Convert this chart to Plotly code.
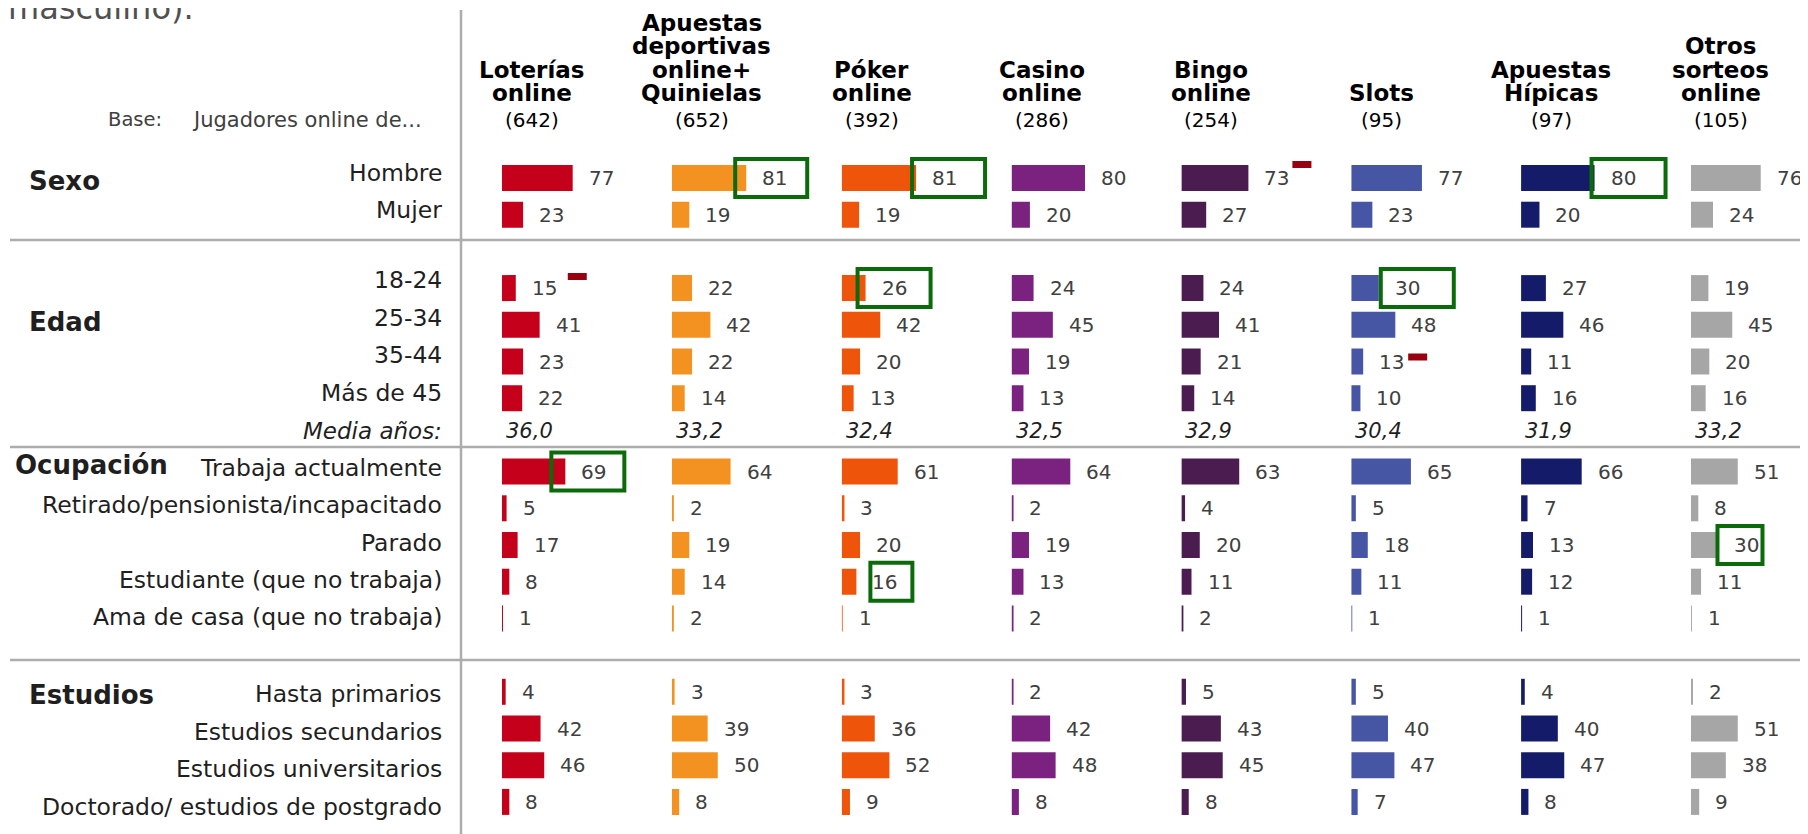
import plotly.graph_objects as go

# ---------------- data ----------------
column_labels = ["Loterías<br>online", "Apuestas<br>deportivas<br>online+<br>Quinielas",
                 "Póker<br>online", "Casino<br>online", "Bingo<br>online", "Slots",
                 "Apuestas<br>Hípicas", "Otros<br>sorteos<br>online"]
base_sizes = [642, 652, 392, 286, 254, 95, 97, 105]

group_names = ["Sexo", "Edad", "Ocupación", "Estudios"]
sexo_rows = ["Hombre", "Mujer"]
edad_rows = ["18-24", "25-34", "35-44", "Más de 45"]
ocupacion_rows = ["Trabaja actualmente", "Retirado/pensionista/incapacitado", "Parado",
                  "Estudiante (que no trabaja)", "Ama de casa (que no trabaja)"]
estudios_rows = ["Hasta primarios", "Estudios secundarios", "Estudios universitarios",
                 "Doctorado/ estudios de postgrado"]

# values per column, in row order (Sexo, Edad, Ocupación, Estudios)
loterias = [77, 23, 15, 41, 23, 22, 69, 5, 17, 8, 1, 4, 42, 46, 8]
apuestas = [81, 19, 22, 42, 22, 14, 64, 2, 19, 14, 2, 3, 39, 50, 8]
poker = [81, 19, 26, 42, 20, 13, 61, 3, 20, 16, 1, 3, 36, 52, 9]
casino = [80, 20, 24, 45, 19, 13, 64, 2, 19, 13, 2, 2, 42, 48, 8]
bingo = [73, 27, 24, 41, 21, 14, 63, 4, 20, 11, 2, 5, 43, 45, 8]
slots = [77, 23, 30, 48, 13, 10, 65, 5, 18, 11, 1, 5, 40, 47, 7]
hipicas = [80, 20, 27, 46, 11, 16, 66, 7, 13, 12, 1, 4, 40, 47, 8]
otros = [76, 24, 19, 45, 20, 16, 51, 8, 30, 11, 1, 2, 51, 38, 9]
media_edad = [36.0, 33.2, 32.4, 32.5, 32.9, 30.4, 31.9, 33.2]

media_label = "Media años:"
base_label = "Base:"
base_text = "Jugadores online de..."
title_fragment = "masculino)."

# significantly higher (green box) / lower (red mark): (column index, row)
higher = [(1, "Hombre"), (2, "Hombre"), (6, "Hombre"), (2, "18-24"), (5, "18-24"),
          (0, "Trabaja actualmente"), (2, "Estudiante (que no trabaja)"), (7, "Parado")]
lower = [(0, "18-24"), (4, "Hombre"), (5, "35-44")]

# ---------------- style / layout (positions in page pixels) ----------------
PAGE_W, PAGE_H = 1808, 834
BODY_MARGIN = 8                      # default html body margin
W, H = PAGE_W - BODY_MARGIN, PAGE_H - BODY_MARGIN
FONT = "DejaVu Sans"
colors = ["#C5001B", "#F39220", "#EF540B", "#7B2280", "#4B1C4F", "#4755A5", "#141C6A", "#A6A6A6"]
COL_START_PX, COL_STEP_PX = 502, 169.85
PX_PER_UNIT = 0.918
BAR_Y0_PX, BAR_PITCH_PX, BAR_H_PX = 178, 36.7, 26
LAB_Y0_PX, LAB_PITCH_PX = 168.6, 37.49
LABEL_GROUP_YSHIFT_PX = [-4, 1, 1, -1]
LABEL_RIGHT_PX = 444
GROUP_X_PX = [27, 27, 13, 27]
GROUP_SLOT_OFFSET = [0.33, 1.1, -0.1, 0.05]
SEPARATOR_Y_PX = [240, 447, 660]
VLINE_X_PX = 461
HEADER_BOTTOM_PX, HEADER_PITCH_PX, HEADER_DX_PX = 93, 23.3, 30
BASE_Y_PX = 120
VALUE_DX_PX = 14
# hand-drawn highlight boxes: pixel extents (x0, x1) relative to the bar end
BOX_DX_PX = [(-11, 61), (-4, 69), (-3, 71), (-8, 65), (2, 75), (-14, 59), (14, 56), (-1, 44)]
# red marks: (x0, y0) pixel offsets relative to bar end / bar centre (y up)
MARK_DXY_PX = [(52, 8), (44, 10), (45, 1)]
MARK_W_PX, MARK_H_PX = 19, 7
GREEN = "#0B6B0B"
DARKRED = "#99000F"
GRAY = "#ADADAD"


def pxx(p):
    return (p - BODY_MARGIN) / W


def pxy(p):
    return 1 - (p - BODY_MARGIN) / H


columns_values = [loterias, apuestas, poker, casino, bingo, slots, hipicas, otros]
row_groups = [sexo_rows, edad_rows, ocupacion_rows, estudios_rows]
all_rows = [r for g in row_groups for r in g]

# slot index of each row (one blank slot after each group)
slot_of, group_first, group_of = {}, [], {}
s = 0
for gi, rows in enumerate(row_groups):
    group_first.append(s)
    for r in rows:
        slot_of[r] = s
        group_of[r] = gi
        s += 1
    s += 1
media_slot = slot_of[edad_rows[-1]] + 1


def axname(k):
    return "x" + ("" if k == 0 else str(k + 1))


fig = go.Figure()
layout_axes = {}
annotations = []
shapes = []
ncol = len(columns_values)

for k, (vals, col) in enumerate(zip(columns_values, colors)):
    x0 = COL_START_PX + k * COL_STEP_PX
    x1 = PAGE_W if k == ncol - 1 else x0 + COL_STEP_PX
    layout_axes["xaxis" + ("" if k == 0 else str(k + 1))] = dict(
        domain=[max(0, pxx(x0)), min(1, pxx(x1))], range=[0, (x1 - x0) / PX_PER_UNIT],
        visible=False, anchor="y", fixedrange=True)
    ys = [slot_of[r] for r in all_rows]
    fig.add_trace(go.Bar(x=vals, y=ys, orientation="h", width=BAR_H_PX / BAR_PITCH_PX,
                         marker=dict(color=col, line=dict(width=0)),
                         xaxis=axname(k), yaxis="y", hoverinfo="skip"))
    # value labels
    for r, v in zip(all_rows, vals):
        annotations.append(dict(x=v, y=slot_of[r], xref=axname(k), yref="y", text=str(v),
                                xanchor="left", yanchor="middle", xshift=VALUE_DX_PX,
                                showarrow=False,
                                font=dict(family=FONT, size=20, color="#404040")))
    # media edad
    annotations.append(dict(x=0, y=media_slot, xref=axname(k), yref="y2",
                            text="<i>" + f"{media_edad[k]:.1f}".replace(".", ",") + "</i>",
                            xanchor="left", yanchor="middle", xshift=2, showarrow=False,
                            font=dict(family=FONT, size=21, color="#1f1f1f")))
    # headers (one annotation per line, bottom aligned)
    lines = column_labels[k].split("<br>")
    for j, line in enumerate(reversed(lines)):
        yc = HEADER_BOTTOM_PX - j * HEADER_PITCH_PX
        annotations.append(dict(x=0, y=pxy(yc), xref=axname(k), yref="paper",
                                text="<b>" + line + "</b>", xanchor="center", yanchor="middle",
                                xshift=HEADER_DX_PX, showarrow=False,
                                font=dict(family=FONT, size=23, color="#000000")))
    annotations.append(dict(x=0, y=pxy(BASE_Y_PX), xref=axname(k), yref="paper",
                            text=f"({base_sizes[k]})", xanchor="center", yanchor="middle",
                            xshift=HEADER_DX_PX, showarrow=False,
                            font=dict(family=FONT, size=20, color="#000000")))

# green boxes (significantly higher)
for (k, r), (dx0, dx1) in zip(higher, BOX_DX_PX):
    v = columns_values[k][all_rows.index(r)]
    shapes.append(dict(type="rect", xref=axname(k), yref="y",
                       xsizemode="pixel", xanchor=v, x0=dx0, x1=dx1,
                       ysizemode="pixel", yanchor=slot_of[r], y0=-19, y1=19,
                       line=dict(color=GREEN, width=4), fillcolor="rgba(0,0,0,0)"))
# dark red marks (significantly lower)
for (k, r), (mdx, mdy) in zip(lower, MARK_DXY_PX):
    v = columns_values[k][all_rows.index(r)]
    shapes.append(dict(type="rect", xref=axname(k), yref="y",
                       xsizemode="pixel", xanchor=v, x0=mdx, x1=mdx + MARK_W_PX,
                       ysizemode="pixel", yanchor=slot_of[r], y0=mdy, y1=mdy + MARK_H_PX,
                       line=dict(width=0), fillcolor=DARKRED))

# row labels
for r in all_rows:
    annotations.append(dict(x=pxx(LABEL_RIGHT_PX), y=slot_of[r], xref="paper", yref="y2", text=r,
                            xanchor="right", yanchor="middle", showarrow=False,
                            yshift=LABEL_GROUP_YSHIFT_PX[group_of[r]],
                            font=dict(family=FONT, size=23.5, color="#1f1f1f")))
annotations.append(dict(x=pxx(LABEL_RIGHT_PX), y=media_slot, xref="paper", yref="y2",
                        text="<i>" + media_label + "</i>", xanchor="right", yanchor="middle",
                        showarrow=False, font=dict(family=FONT, size=23, color="#1f1f1f")))
# group labels
for g, name in enumerate(group_names):
    annotations.append(dict(x=pxx(GROUP_X_PX[g]), y=group_first[g] + GROUP_SLOT_OFFSET[g],
                            xref="paper", yref="y2", text="<b>" + name + "</b>",
                            xanchor="left", yanchor="middle", showarrow=False,
                            font=dict(family=FONT, size=26, color="#1f1f1f")))
# base text
annotations.append(dict(x=pxx(106), y=pxy(BASE_Y_PX), xref="paper", yref="paper",
                        text=base_label, xanchor="left", yanchor="middle", showarrow=False,
                        font=dict(family=FONT, size=19.5, color="#404040")))
annotations.append(dict(x=pxx(424), y=pxy(BASE_Y_PX), xref="paper", yref="paper",
                        text=base_text, xanchor="right", yanchor="middle", showarrow=False,
                        font=dict(family=FONT, size=21, color="#404040")))
# cut-off title fragment (top of the page)
annotations.append(dict(x=pxx(6), y=pxy(29), xref="paper", yref="paper",
                        text=title_fragment, xanchor="left", yanchor="bottom", showarrow=False,
                        font=dict(family=FONT, size=32, color="#505050")))

# separators
for yp in SEPARATOR_Y_PX:
    shapes.append(dict(type="line", xref="paper", yref="paper", x0=pxx(10), x1=1,
                       y0=pxy(yp), y1=pxy(yp),
                       line=dict(color=GRAY, width=2.5), layer="below"))
shapes.append(dict(type="line", xref="paper", yref="paper", x0=pxx(VLINE_X_PX), x1=pxx(VLINE_X_PX),
                   y0=pxy(10), y1=0, line=dict(color=GRAY, width=2.5), layer="below"))

# invisible trace so the label axis exists
fig.add_trace(go.Scatter(x=[0], y=[0], xaxis="x", yaxis="y2", mode="markers",
                         marker=dict(opacity=0), hoverinfo="skip", showlegend=False))

bar_top = (BODY_MARGIN - BAR_Y0_PX) / BAR_PITCH_PX
bar_bot = (PAGE_H - BAR_Y0_PX) / BAR_PITCH_PX
lab_top = (BODY_MARGIN - LAB_Y0_PX) / LAB_PITCH_PX
lab_bot = (PAGE_H - LAB_Y0_PX) / LAB_PITCH_PX

fig.update_layout(
    width=W, height=H, margin=dict(l=0, r=0, t=0, b=0, pad=0),
    paper_bgcolor="white", plot_bgcolor="rgba(0,0,0,0)", showlegend=False,
    barmode="overlay",
    yaxis=dict(domain=[0, 1], range=[bar_bot, bar_top], visible=False, fixedrange=True),
    yaxis2=dict(domain=[0, 1], range=[lab_bot, lab_top], visible=False, overlaying="y",
                anchor="x", fixedrange=True),
    annotations=annotations, shapes=shapes,
    **layout_axes,
)

fig.write_html("out.html")
